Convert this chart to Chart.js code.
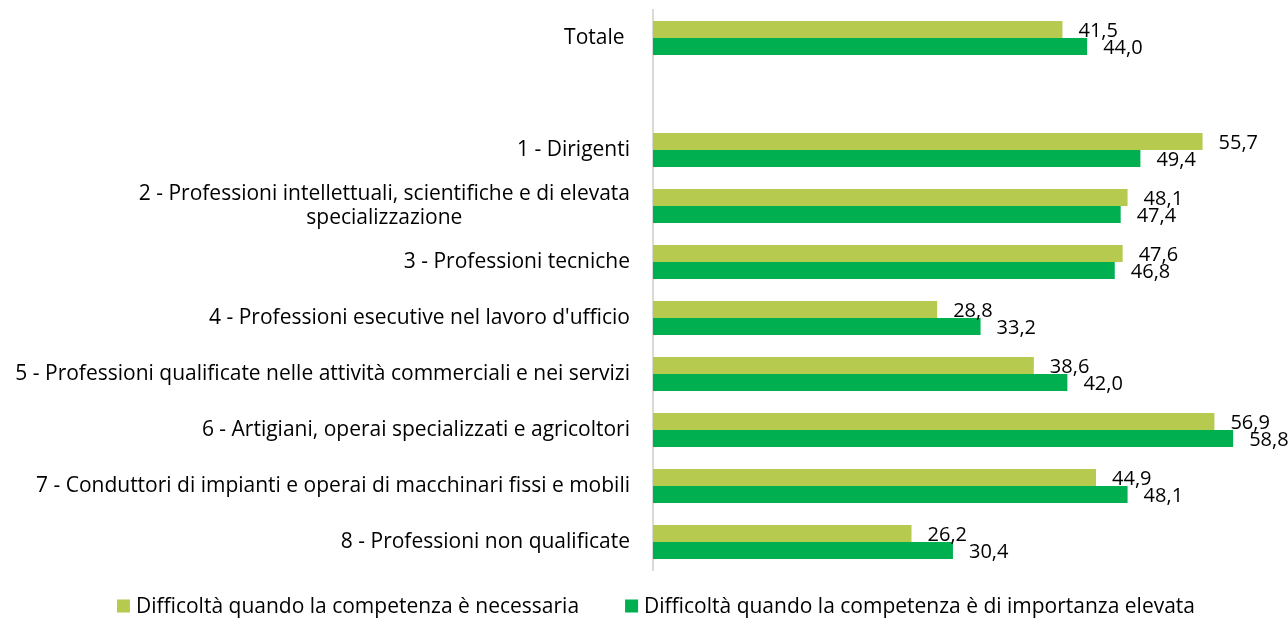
<!DOCTYPE html>
<html>
<head>
<meta charset="utf-8">
<script src="https://cdn.jsdelivr.net/npm/chart.js@4"></script>
<style>
  html, body { margin: 0; padding: 0; background: #ffffff; }
  #wrap { width: 1288px; height: 623px; position: relative; }
</style>
</head>
<body>
<div id="wrap"><canvas id="c" width="1288" height="623"></canvas></div>
<script>
const categories = [
  "Totale ",
  "",
  "1 - Dirigenti",
  ["2 - Professioni intellettuali, scientifiche e di elevata", "specializzazione"],
  "3 - Professioni tecniche",
  "4 - Professioni esecutive nel lavoro d'ufficio",
  "5 - Professioni qualificate nelle attività commerciali e nei servizi",
  "6 - Artigiani, operai specializzati e agricoltori",
  "7 - Conduttori di impianti e operai di macchinari fissi e mobili",
  "8 - Professioni non qualificate"
];
const seriesNames = [
  "Difficoltà quando la competenza è necessaria",
  "Difficoltà quando la competenza è di importanza elevata"
];
const necessaria = [41.5, null, 55.7, 48.1, 47.6, 28.8, 38.6, 56.9, 44.9, 26.2];
const elevata    = [44.0, null, 49.4, 47.4, 46.8, 33.2, 42.0, 58.8, 48.1, 30.4];

const FONT = "'Open Sans', sans-serif";
const FS = 21;
const FS_VAL = 20;
const colors = ["#B7CA50", "#00B050"];

const fmt = v => v.toFixed(1).replace('.', ',');

const customDraw = {
  id: 'customDraw',
  afterDatasetsDraw(chart) {
    const ctx = chart.ctx;
    ctx.save();
    ctx.fillStyle = '#000';
    ctx.textBaseline = 'middle';
    ctx.textAlign = 'left';
    ctx.font = FS_VAL + 'px ' + FONT;
    chart.data.datasets.forEach((ds, di) => {
      const meta = chart.getDatasetMeta(di);
      meta.data.forEach((bar, i) => {
        const v = ds.data[i];
        if (v === null || v === undefined) return;
        ctx.fillText(fmt(v), bar.x + 16, bar.y + 2);
      });
    });
    // y labels
    ctx.font = FS + 'px ' + FONT;
    const ys = chart.scales.y;
    const rightX = chart.chartArea.left - 23;
    const lh = 24;
    categories.forEach((lab, i) => {
      const lines = Array.isArray(lab) ? lab : [lab];
      const cy = ys.getPixelForTick(i);
      const maxW = Math.max(...lines.map(l => ctx.measureText(l).width));
      const startY = cy - (lines.length - 1) * lh / 2;
      lines.forEach((l, k) => {
        if (lines.length > 1) {
          ctx.textAlign = 'center';
          ctx.fillText(l, rightX - maxW / 2, startY + k * lh);
        } else {
          ctx.textAlign = 'right';
          ctx.fillText(l, rightX, startY + k * lh);
        }
      });
    });
    // legend
    const boxS = 13, gapBox = 6, gapItem = 46;
    const widths = seriesNames.map(n => ctx.measureText(n).width);
    const total = widths.reduce((a, w) => a + boxS + gapBox + w, 0) + gapItem;
    let x = (chart.width - total) / 2 + 12;
    const ly = 607;
    ctx.textAlign = 'left';
    seriesNames.forEach((n, k) => {
      ctx.fillStyle = colors[k];
      ctx.fillRect(x, ly - boxS / 2 - 1, boxS, boxS);
      ctx.fillStyle = '#000';
      ctx.fillText(n, x + boxS + gapBox, ly);
      x += boxS + gapBox + widths[k] + gapItem;
    });
    ctx.restore();
  }
};

new Chart(document.getElementById('c'), {
  type: 'bar',
  data: {
    labels: categories,
    datasets: [
      { label: seriesNames[0], data: necessaria, backgroundColor: colors[0] },
      { label: seriesNames[1], data: elevata, backgroundColor: colors[1] }
    ]
  },
  options: {
    indexAxis: 'y',
    responsive: false,
    animation: false,
    devicePixelRatio: 1,
    layout: { padding: { top: 10, right: 43, bottom: 53, left: 0 } },
    datasets: { bar: { categoryPercentage: 0.61, barPercentage: 1.0 } },
    scales: {
      x: { display: false, min: 0, max: 60 },
      y: {
        grid: { display: false, drawTicks: false },
        border: { display: true, color: '#D9D9D9', width: 2 },
        ticks: { display: false },
        afterFit(scale) { scale.width = 653; }
      }
    },
    plugins: {
      legend: { display: false },
      tooltip: { enabled: false }
    }
  },
  plugins: [customDraw]
});
</script>
</body>
</html>
